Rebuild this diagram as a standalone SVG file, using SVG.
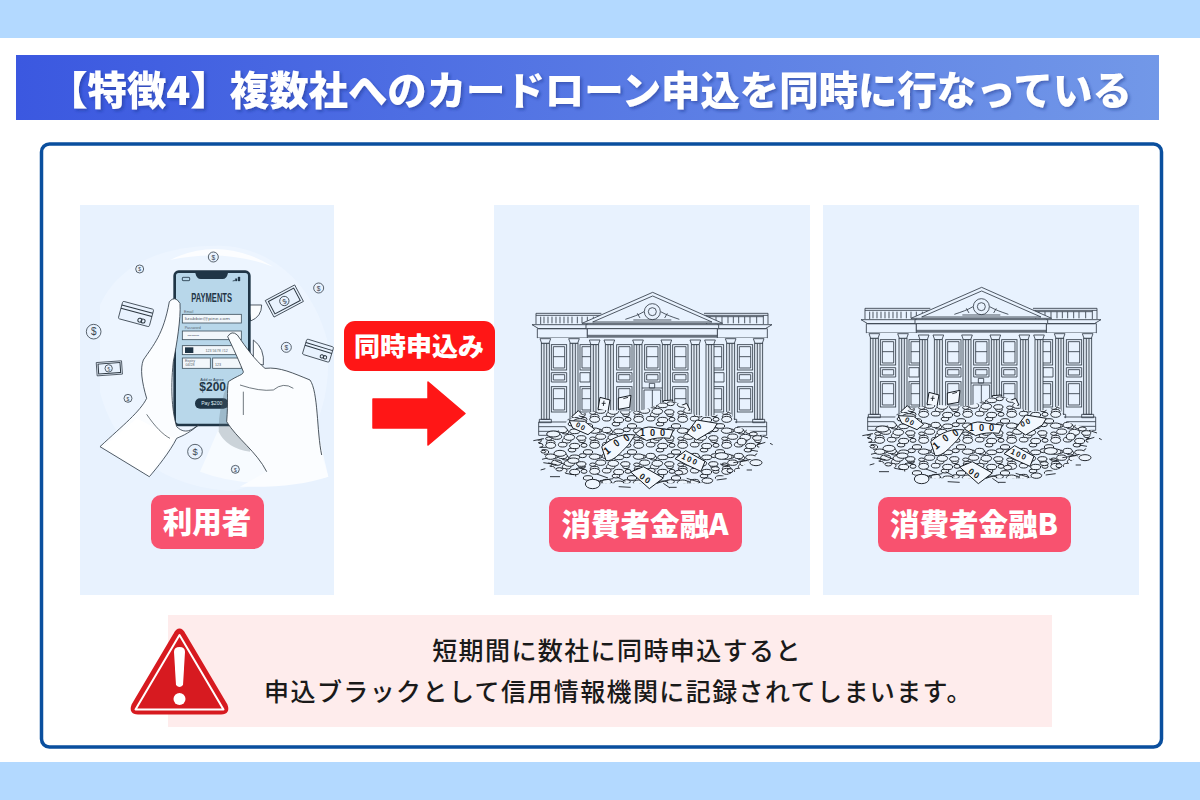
<svg xmlns="http://www.w3.org/2000/svg" xmlns:xlink="http://www.w3.org/1999/xlink" width="1200" height="800" viewBox="0 0 1200 800">
<style>
text{font-family:"Noto Sans CJK JP","Noto Sans",sans-serif;text-anchor:middle}
.lb{font-size:29.500px;font-weight:900;fill:#fff}
.pk{fill:#f8526f}
.panel{fill:#e8f2fe}
.warn{font-size:25px;font-weight:500;fill:#1a1a1a;letter-spacing:1.400px}
.ln{fill:none;stroke:#2b3640;stroke-width:3}
.bk{fill:none;stroke:#36404b;stroke-width:2.600}
.bkf{fill:#e8f2fe;stroke:#36404b;stroke-width:2.600}
.pil{fill:#dfe8f2;stroke:#36404b;stroke-width:2.600}
.co{fill:#eef5fd;stroke:#151b22;stroke-width:2.800}
.no{fill:#f3f8fe;stroke:#151b22;stroke-width:3}
.sc{fill:none;stroke:#151b22;stroke-width:2.600}
.ic{fill:#e8f2fe;stroke:#3b4651;stroke-width:2.500}
.hand{fill:#fbfdff;stroke:#2f3b47;stroke-width:2.500;stroke-linejoin:round}
.fld{fill:#f2f7fb;stroke:#41535f;stroke-width:2.500}
.sm{font-family:"Liberation Sans",sans-serif;fill:#5a6670;font-size:11px}
.d{font-family:"Liberation Sans",sans-serif;font-size:20px;fill:#3b4651}
</style>
<defs>
<linearGradient id="tg" x1="0" x2="1" y1="0" y2="0"><stop offset="0" stop-color="#3b58e0"/><stop offset="1" stop-color="#7298e8"/></linearGradient>
<filter id="ts" x="-5%" y="-20%" width="110%" height="140%"><feDropShadow dx="2" dy="2" stdDeviation="1.500" flood-color="#1c2c80" flood-opacity=".45"/></filter>
<pattern id="cp" patternUnits="userSpaceOnUse" width="132" height="78">
 <ellipse class="co" cx="20" cy="14" rx="16" ry="8"/><ellipse class="co" cx="56" cy="12" rx="14" ry="8"/><ellipse class="co" cx="92" cy="16" rx="15" ry="7"/><ellipse class="co" cx="116" cy="11" rx="11" ry="6"/>
 <ellipse class="co" cx="38" cy="32" rx="15" ry="8"/><ellipse class="co" cx="76" cy="34" rx="16" ry="9"/><ellipse class="co" cx="112" cy="36" rx="14" ry="7"/><ellipse class="co" cx="14" cy="38" rx="9" ry="5"/>
 <ellipse class="co" cx="20" cy="58" rx="15" ry="9"/><ellipse class="co" cx="56" cy="56" rx="13" ry="7"/><ellipse class="co" cx="92" cy="60" rx="15" ry="8"/><ellipse class="co" cx="120" cy="58" rx="9" ry="6"/>
</pattern>
<pattern id="cp2" patternUnits="userSpaceOnUse" width="132" height="78" patternTransform="translate(48 30)">
 <ellipse class="co" cx="20" cy="14" rx="13" ry="7"/><ellipse class="co" cx="66" cy="14" rx="10" ry="6"/><ellipse class="co" cx="104" cy="20" rx="13" ry="7"/>
 <ellipse class="co" cx="36" cy="42" rx="12" ry="6"/><ellipse class="co" cx="84" cy="48" rx="14" ry="7"/><ellipse class="co" cx="116" cy="62" rx="10" ry="5"/><ellipse class="co" cx="16" cy="66" rx="11" ry="6"/>
</pattern>
<g id="column"><path class="bk" d="M-16 0h32l-5 14h-22z"/><rect class="pil" x="-12" y="14" width="24" height="228"/><path class="bk" d="M-4 14v228M4 14v228M-18 242h36v10h-36z"/></g>
<g id="win"><rect class="bkf" x="0" y="0" width="46" height="76"/><path class="bk" d="M6 6h34v64H6zM6 36h34"/></g>
<g id="bank">
 <path class="bk" d="M108 130h196M108 136h196M612 130h192M612 136h192M108 130v32M804 130v32M620 136v26M790 136v26M122 140v22M790 140h-170"/>
 <path class="bk" d="M132 140v20M144 140v20M156 140v20M168 140v20M180 140v20M192 140v20M204 140v20M216 140v20M232 140v20M246 140v20M262 140v20M280 140v20M630 140v20M648 140v20M666 140v20M684 140v20M700 140v20M716 140v20M734 140v20M750 140v20M770 140v20"/>
 <path class="bkf" d="M96 164H262V176H116zM816 164H652V176H796z"/>
 <path class="bk" d="M112 176H262v28H112zM652 176h150v28H652z"/>
 <path class="bkf" d="M458 67 668 160H246zM458 78 636 156H278z"/>
 <circle class="bk" cx="457" cy="125" r="12"/><circle class="bk" cx="457" cy="125" r="24"/>
 <path class="bk" d="M376 148C400 140 415 135 432 125M538 148C514 140 500 135 482 125M400 150h114M412 130l8 14M502 130l-8 14"/>
 <path class="bkf" d="M258 164H656V176H258z"/>
 <path class="bkf" d="M262 176H652V200H262z"/><path class="bk" d="M262 196H652M262 204H652M266 210H648"/>
 <path class="bkf" d="M112 204H802V460H112z" style="stroke:none"/>
 <use href="#win" x="154" y="224"/><use href="#win" x="240" y="224"/><use href="#win" x="350" y="224"/><use href="#win" x="434" y="224"/><use href="#win" x="518" y="224"/><use href="#win" x="625" y="224"/><use href="#win" x="712" y="224"/>
 <use href="#win" x="154" y="350"/><use href="#win" x="240" y="350"/><use href="#win" x="350" y="350"/><use href="#win" x="518" y="350"/><use href="#win" x="625" y="350"/><use href="#win" x="712" y="350"/>
 <path class="bk" d="M154 308h46v28h-46zM160 314h34v16h-34zM240 308h30v28h-30zM350 308h46v28h-46zM356 314h34v16h-34zM434 308h46v28h-46zM440 314h34v16h-34zM518 308h46v28h-46zM524 314h34v16h-34zM642 308h30v28h-30zM712 308h46v28h-46zM718 314h34v16h-34zM448 340h16v14h-16zM432 360h50v70h-50zM457 360v70M426 354h62"/>
 <use href="#column" x="136" y="206"/><use href="#column" x="222" y="206"/><use href="#column" x="284" y="210"/><use href="#column" x="328" y="210"/><use href="#column" x="414" y="210"/><use href="#column" x="499" y="210"/><use href="#column" x="586" y="210"/><use href="#column" x="630" y="210"/><use href="#column" x="692" y="206"/><use href="#column" x="776" y="206"/>
 <path class="bk" d="M116 456H800M116 470H800M116 484H800M116 496H800M116 456v40M800 456v40"/>
 <path class="no" d="M300 382l30 8-6 34-30-6zM355 384l38-8-4 36-34 6zM490 392l28-2v20h-28zM530 412l30-12 10 20-30 8zM215 440l20-18 20 20-20 10z"/>
 <path class="sc" d="M312 392l-2 16M370 386l14-4M305 400h12"/>
 <path d="M200 452Q280 412 350 422T470 405T560 418T690 422L712 470L790 496L770 556L700 610L600 640L280 640L150 590L112 512L196 472Z" fill="#e8f2fe"/>
 <path d="M200 452Q280 412 350 422T470 405T560 418T690 422L712 470L790 496L770 556L700 610L600 640L280 640L150 590L112 512L196 472Z" fill="url(#cp2)"/>
 <path d="M200 452Q280 412 350 422T470 405T560 418T690 422L712 470L790 496L770 556L700 610L600 640L280 640L150 590L112 512L196 472Z" fill="url(#cp)"/>
 <g id="coins">
  <ellipse class="co" cx="160" cy="492" rx="20" ry="9"/><ellipse class="co" cx="180" cy="550" rx="18" ry="9"/><ellipse class="co" cx="220" cy="572" rx="17" ry="8"/><ellipse class="co" cx="130" cy="545" rx="7" ry="4"/><ellipse class="co" cx="178" cy="598" rx="10" ry="5"/><ellipse class="co" cx="665" cy="558" rx="20" ry="10"/><ellipse class="co" cx="768" cy="578" rx="18" ry="9"/><ellipse class="co" cx="622" cy="632" rx="16" ry="8"/><ellipse class="co" cx="690" cy="602" rx="9" ry="6"/><ellipse class="co" cx="646" cy="596" rx="12" ry="6"/><ellipse class="co" cx="278" cy="642" rx="22" ry="14"/><ellipse class="co" cx="536" cy="608" rx="12" ry="7"/><ellipse class="co" cx="760" cy="492" rx="12" ry="6"/><ellipse class="co" cx="725" cy="515" rx="13" ry="10"/><ellipse class="co" cx="240" cy="455" rx="20" ry="9"/>
 </g>
 <path class="no" d="M305 530C340 500 370 490 405 495L385 525C360 550 340 575 318 572Z"/>
 <path class="no" d="M406 492Q430 466 460 472T520 480L510 505Q470 500 440 512Z"/>
 <path class="no" d="M525 566l32-24 58 32-12 30-40-18z"/>
 <path class="no" d="M392 606l38-16 60 34-42 32z"/>
 <path class="no" d="M560 490l30-40 62 10-12 20-50 30z"/>
 <path class="no" d="M208 452l46 2 30 24-20 16-46-20z"/>
 <g style="font-family:'Liberation Sans',sans-serif;font-size:30px;font-weight:700;fill:#151b22">
  <text transform="translate(328 550) rotate(-40)">1</text><text transform="translate(355 528) rotate(-35) scale(.8 1)">0</text><text transform="translate(385 512) rotate(-35) scale(.8 1)">0</text>
  <text x="428" y="498" font-size="26">1</text><text x="458" y="498" font-size="26">0</text><text x="488" y="498" font-size="26">0</text>
  <text transform="translate(565 575) rotate(25)" font-size="22">1 0 0</text><text transform="translate(430 632) rotate(35)" font-size="24">0 0</text><text transform="translate(592 480) rotate(-25)" font-size="22">0 0</text><text transform="translate(238 475) rotate(30)" font-size="20">0 0</text>
 </g>
 <path class="sc" d="M100 512l32-6M118 532h22M130 578l40 6M122 600l14-4M150 620h30M196 610l26 4M228 596l28-6M300 632l40-6M350 620l26 14M356 650l36 2M470 640l34-10M508 652h22M560 625l40 12M650 630l30-4M660 582l30 6M700 578l40-6M770 525l26-8M750 540l24 4M780 496l24 8M810 520l8 4M740 600h16M126 568l16-4M166 572l30 12M290 612l34 12M490 640l20 14"/>
</g>
</defs>

<rect width="1200" height="38" fill="#b3d9ff"/>
<rect y="762" width="1200" height="38" fill="#b3d9ff"/>
<rect x="16" y="55" width="1143" height="65" fill="url(#tg)"/>
<text x="590" y="105" font-size="39.400" font-weight="900" fill="#fff" filter="url(#ts)">【特徴4】複数社へのカードローン申込を同時に行なっている</text>
<rect x="41.500" y="144" width="1120" height="603" rx="8" fill="#fff" stroke="#0a4f9e" stroke-width="3.500"/>

<g id="user">
 <rect class="panel" x="80" y="205" width="254" height="390"/>
 <g transform="translate(80 205) scale(.33333)">
  <path d="M60 300C120 170 260 120 420 122C560 125 690 220 740 400C760 560 720 790 460 858C280 850 110 760 60 560Z" fill="#edf5ff"/>
  <path d="M270 165Q420 90 580 185Q430 130 270 165Z" fill="#fff" opacity=".8"/>
  <path d="M360 800Q520 860 745 815L700 620L430 640Z" fill="#f7fbff"/>
  <g>
   <circle class="ic" cx="400" cy="156" r="15"/><text class="d" x="400" y="164">$</text>
   <circle class="ic" cx="179" cy="192" r="12"/><text class="d" x="179" y="199" style="font-size:15px">$</text>
   <circle class="ic" cx="716" cy="249" r="15"/><text class="d" x="716" y="257">$</text>
   <circle class="ic" cx="41" cy="380" r="22"/><text class="d" x="41" y="391" style="font-size:30px">$</text>
   <circle class="ic" cx="619" cy="427" r="15"/><text class="d" x="619" y="435">$</text>
   <circle class="ic" cx="144" cy="580" r="12"/><text class="d" x="144" y="587" style="font-size:15px">$</text>
   <circle class="ic" cx="345" cy="740" r="22"/><text class="d" x="345" y="750" style="font-size:28px">$</text>
   <circle class="ic" cx="466" cy="793" r="12"/><text class="d" x="466" y="800" style="font-size:15px">$</text>
   <g transform="rotate(15 168 327)"><rect class="ic" x="120" y="300" width="96" height="54" rx="4"/><path class="ln" d="M120 312h96M120 322h96"/><circle class="ln" cx="184" cy="342" r="6"/><circle class="ln" cx="194" cy="342" r="6"/></g>
   <g transform="rotate(17 714 437)"><rect class="ic" x="672" y="413" width="84" height="48" rx="4"/><path class="ln" d="M672 424h84M672 433h84"/><circle class="ln" cx="730" cy="450" r="5"/><circle class="ln" cx="740" cy="450" r="5"/></g>
   <g transform="rotate(-28 613 288)"><rect class="ic" x="563" y="260" width="100" height="56"/><rect class="ln" x="570" y="267" width="86" height="42"/><circle class="ic" cx="613" cy="288" r="14"/><text class="d" x="613" y="296">$</text></g>
   <g transform="rotate(-4 88 490)"><rect class="ic" x="50" y="470" width="76" height="40"/><rect class="ln" x="55" y="475" width="66" height="30"/><circle class="ic" cx="86" cy="490" r="11"/><text class="d" x="86" y="497" style="font-size:15px">$</text></g>
  </g>
  <path class="hand" d="M505 300L545 300Q545 335 512 348Z"/>
  <rect x="284" y="200" width="224" height="460" rx="12" fill="#b8d7ea" stroke="#1f3546" stroke-width="8"/>
  <path d="M346 204h98Q440 222 428 222H362Q350 222 346 204Z" fill="#1f3546"/>
  <rect x="307" y="217" width="22" height="10" rx="2" fill="none" stroke="#1f3546" stroke-width="2.500"/>
  <path d="M458 228l6-2v2zM466 228v-7h5v7zM474 228v-12h6v12z" fill="#1f3546" stroke="#1f3546"/>
  <text x="395" y="291" style="font-family:'Liberation Sans',sans-serif;font-size:38px;font-weight:700;fill:#1f3546" textLength="122" lengthAdjust="spacingAndGlyphs">PAYMENTS</text>
  <rect class="fld" x="307" y="328" width="177" height="26"/><rect class="fld" x="307" y="378" width="177" height="26"/>
  <rect class="fld" x="307" y="422" width="177" height="27"/><rect x="315" y="427" width="25" height="17" fill="#1f3546"/>
  <rect class="fld" x="307" y="459" width="84" height="31"/><rect class="fld" x="398" y="459" width="86" height="31"/>
  <text class="sm" x="326" y="325">Email</text><text class="sm" x="338" y="373">Password</text><text class="sm" x="382" y="345" textLength="136" lengthAdjust="spacingAndGlyphs">lizabbie@pine.com</text>
  <text class="sm" x="410" y="441">123 5678 #12</text><text class="sm" x="330" y="472">Expiry</text><text class="sm" x="330" y="484">04/28</text><text class="sm" x="414" y="484">123</text><text class="sm" x="340" y="396">•••••••••</text>
  <text x="396" y="527" style="font-family:'Liberation Sans',sans-serif;font-size:12px;fill:#33475a">Add or Agree</text>
  <text x="398" y="558" style="font-family:'Liberation Sans',sans-serif;font-size:36px;font-weight:700;fill:#1f3546">$200</text>
  <rect x="345" y="580" width="100" height="31" rx="15" fill="#1f3546"/>
  <text x="395" y="601" style="font-family:'Liberation Sans',sans-serif;font-size:15px;fill:#dfeaf2">Pay $200</text>
  <path d="M445 530Q415 600 416 680Q440 730 510 740L520 610Z" fill="#5a6a78" opacity=".28"/>
  <path class="hand" d="M60 725C130 660 180 620 200 580C185 530 180 490 190 465C220 420 250 390 268 290Q285 270 300 295C303 340 290 420 280 470C270 560 278 625 290 665C320 695 345 665 356 660C320 690 300 695 290 700C270 740 230 790 208 815Z"/>
  <path d="M70 725L170 640L285 700L208 812Z" fill="#fff"/>
  <path class="ln" style="stroke-width:2" d="M200 628C225 665 250 690 270 700"/>
  <path class="hand" d="M520 405Q555 430 550 480L520 475Z"/>
  <path class="hand" d="M560 800C530 740 470 700 440 650C445 590 440 560 445 530C475 510 490 510 490 500C470 450 450 410 443 395Q455 375 472 390C500 430 525 465 555 490C600 485 640 505 690 525C715 560 710 680 725 750L745 815Q640 850 480 845Z" style="stroke:none"/>
  <path class="ln" style="stroke-width:2.500" d="M560 800C530 740 470 700 440 650C445 590 440 560 445 530C475 510 490 510 490 500C470 450 450 410 443 395Q455 375 472 390C500 430 525 465 555 490C600 485 640 505 690 525C715 560 710 680 725 750"/>
  <path class="ln" style="stroke-width:2" d="M480 540Q540 560 580 555Q610 530 640 550M490 560v70"/>
 </g>
 <rect class="pk" x="151" y="495" width="113" height="54" rx="10"/>
 <text class="lb" x="207" y="533">利用者</text>
</g>

<g id="lenderA">
 <rect class="panel" x="494" y="205" width="316" height="390"/>
 <use href="#bank" transform="translate(500 270) scale(.33333)"/>
 <rect class="pk" x="549" y="497" width="193" height="55" rx="10"/>
 <text class="lb" x="645" y="535">消費者金融A</text>
</g>

<g id="lenderB">
 <rect class="panel" x="823" y="205" width="316" height="390"/>
 <use href="#bank" transform="translate(829 265) scale(.33333)"/>
 <rect class="pk" x="878" y="497" width="193" height="55" rx="10"/>
 <text class="lb" x="974" y="535">消費者金融B</text>
</g>

<g id="connector">
 <rect x="344" y="321" width="151" height="50" rx="11" fill="#ff1616"/>
 <text x="419" y="356" font-size="26" font-weight="900" fill="#fff">同時申込み</text>
 <path d="M373 399H428V382L465 413.500L428 445V428H373Z" fill="#ff1616" stroke="#ff1616" stroke-width="1.500" stroke-linejoin="round"/>
</g>

<g id="notice">
 <rect x="168" y="615" width="884" height="112" fill="#feecec"/>
 <path d="M179.500 630Q177 630 175 634L133 705Q130 713 138 713H221Q229 713 226 705L184 634Q182 630 179.500 630Z" fill="#d71a20" stroke="#d71a20" stroke-width="3" stroke-linejoin="round"/>
 <path d="M179.500 635L135.500 709.500H223.500Z" fill="none" stroke="#fff" stroke-width="2" stroke-linejoin="round"/>
 <path d="M174 652Q174 647 179.500 647Q185 647 185 652L183 685Q179.500 689 176 685Z" fill="#fff"/>
 <circle cx="179.500" cy="699" r="6" fill="#fff"/>
 <text class="warn" x="617" y="660">短期間に数社に同時申込すると</text>
 <text class="warn" x="618.500" y="701">申込ブラックとして信用情報機関に記録されてしまいます。</text>
</g>
</svg>
